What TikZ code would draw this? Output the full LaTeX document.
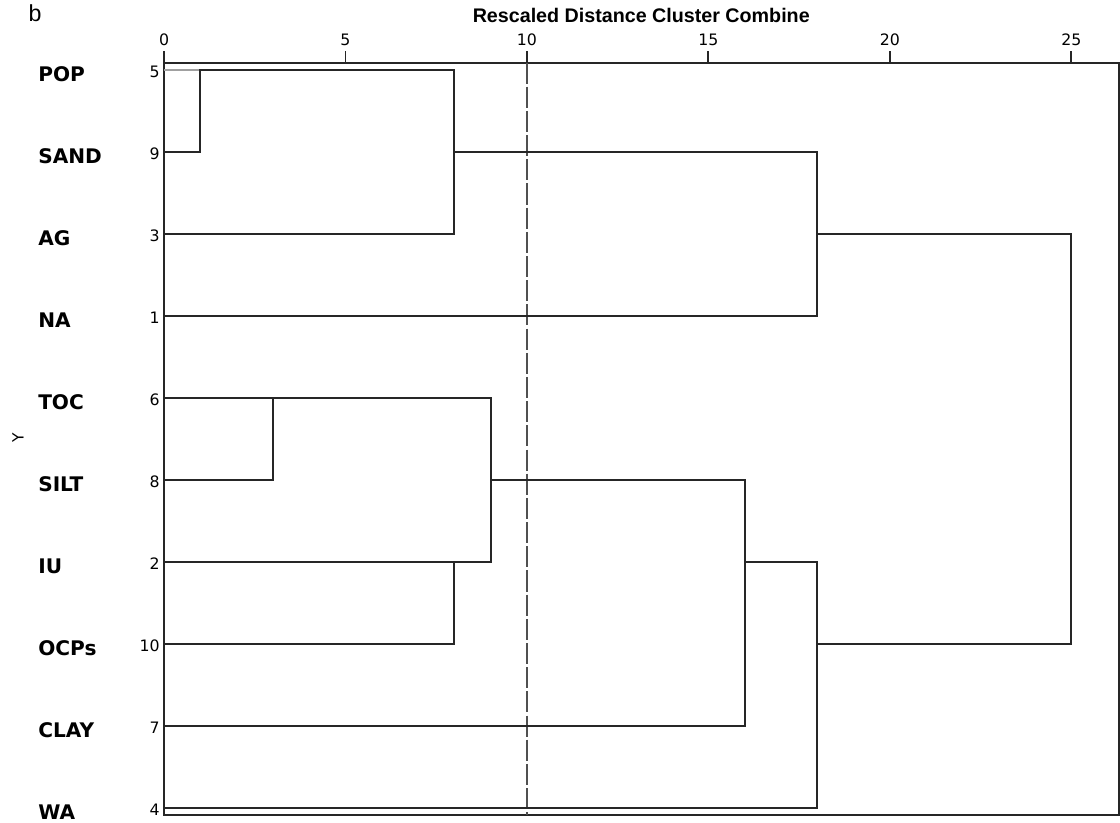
\documentclass[tikz,border=0pt]{standalone}
\usepackage{fontspec}
\setmainfont{DejaVu Sans}
\newfontfamily\arialfont{Liberation Sans}
\definecolor{linegray}{HTML}{262626}
\definecolor{dashgray}{HTML}{505050}
\definecolor{softgray}{HTML}{A0A0A0}
\tikzset{
    leaflabel/.style={anchor=west,inner sep=0pt,font=\fontsize{14.3}{14}\selectfont\bfseries},
    leafnum/.style={anchor=east,inner sep=0pt,font=\fontsize{11.2}{11}\selectfont},
    ticknum/.style={anchor=south,inner sep=0pt,font=\fontsize{11.2}{11}\selectfont},
    link/.style={draw=linegray,line width=1.35pt},
}
\newcommand{\Leaf}[3]{% row,number,label (row 0 = top)
    \node[leaflabel] (lab#2) at (38,70+82*#1+4) {#3};
    \node[leafnum] (num#2) at (160,70+82*#1+2) {#2};
}

\begin{document}
\begin{tikzpicture}[x=0.025cm,y=-0.025cm]
    \useasboundingbox (0,0) rectangle (1120,823);

    \node[font=\arialfont\fontsize{16.5}{16}\selectfont] (tag) at (35,13) {b};
    \node[rotate=90,font=\fontsize{11}{11}\selectfont] (ylab) at (18,438) {Y};

    \Leaf{0}{5}{POP}
    \Leaf{1}{9}{SAND}
    \Leaf{2}{3}{AG}
    \Leaf{3}{1}{NA}
    \Leaf{4}{6}{TOC}
    \Leaf{5}{8}{SILT}
    \Leaf{6}{2}{IU}
    \Leaf{7}{10}{OCPs}
    \Leaf{8}{7}{CLAY}
    \Leaf{9}{4}{WA}

    % distance units, rows downwards
    \begin{scope}[xshift=4.1cm,yshift=-1.75cm,x=0.907cm,y=-2.05cm]
        \node[font=\arialfont\fontsize{14}{14}\selectfont\bfseries] (title) at (13.15,-0.67) {Rescaled Distance Cluster Combine};
        \draw[draw=linegray,line width=1.4pt] (0,-0.0915) rectangle (26.31,9.085);
        \foreach \t in {0,5,...,25}{
            \draw[draw=linegray,line width=1.3pt] (\t,-0.0915) -- (\t,-0.226);
            \node[ticknum] (tick\t) at (\t,-0.293) {\t};
        }

        \draw[draw=dashgray,line width=1.5pt,dash pattern=on 15pt off 2.2pt] (10,-0.0915) -- (10,9.085);

        \draw[link,draw=softgray] (0,0) -- (1,0);
        \draw[link] (0,1) -- (1,1) -- (1,0) -- (8,0) -- (8,2) -- (0,2);
        \draw[link] (8,1) -- (18,1) -- (18,3) -- (0,3);
        \draw[link] (18,2) -- (25,2) -- (25,7) -- (18,7);

        \draw[link] (0,4) -- (3,4) -- (3,5) -- (0,5);
        \draw[link] (3,4) -- (9,4) -- (9,6) -- (0,6);
        \draw[link] (8,6) -- (8,7) -- (0,7);
        \draw[link] (9,5) -- (16,5) -- (16,8) -- (0,8);
        \draw[link] (16,6) -- (18,6) -- (18,9) -- (0,9);
    \end{scope}
\end{tikzpicture}
\end{document}
